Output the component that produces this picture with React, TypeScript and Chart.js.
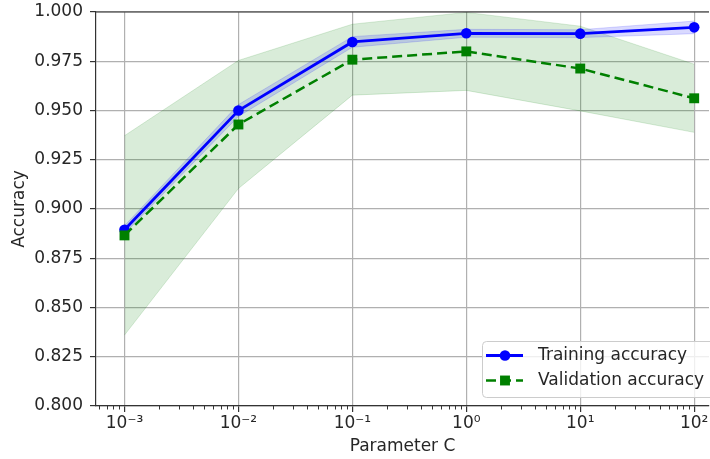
import React, { useEffect, useRef } from 'react';
import { Chart, registerables } from 'chart.js';

Chart.register(...registerables);

// ---- data ----
const paramC = [0.001, 0.01, 0.1, 1, 10, 100];
const trainMean = [0.8895, 0.95, 0.9848, 0.9892, 0.989, 0.9922];
const trainStd = [0.002, 0.003, 0.0027, 0.002, 0.002, 0.0032];
const testMean = [0.8866, 0.9429, 0.9758, 0.98, 0.9713, 0.9562];
const testStd = [0.0506, 0.0325, 0.018, 0.0198, 0.0215, 0.0173];

const xMajorTicks = [0.001, 0.01, 0.1, 1, 10, 100];
const xTickLabels = ['10⁻³', '10⁻²', '10⁻¹', '10⁰', '10¹', '10²'];
const yTickValues = [0.8, 0.825, 0.85, 0.875, 0.9, 0.925, 0.95, 0.975, 1.0];
const legendLabels = ['Training accuracy', 'Validation accuracy'];
const xTitle = 'Parameter C';
const yTitle = 'Accuracy';

const FONT = 'DejaVu Sans';
const FONT_SIZE = 17;
const TEXT = '#262626';
const SPINE = '#333333';

const pts = (arr: number[]) => paramC.map((x, i) => ({ x, y: arr[i] }));

const spinesPlugin = {
  id: 'spinesAndMinor',
  afterDraw(chart: any) {
    const { ctx, chartArea, scales } = chart;
    const xs = scales.x;
    ctx.save();
    // top spine
    ctx.strokeStyle = SPINE;
    ctx.lineWidth = 1.2;
    ctx.beginPath();
    ctx.moveTo(chartArea.left, chartArea.top);
    ctx.lineTo(chartArea.right, chartArea.top);
    ctx.stroke();
    // minor ticks on log axis
    ctx.lineWidth = 1;
    const lo = Math.floor(Math.log10(xs.min));
    const hi = Math.ceil(Math.log10(xs.max));
    for (let k = lo; k <= hi; k++) {
      for (let m = 2; m <= 9; m++) {
        const v = m * Math.pow(10, k);
        if (v < xs.min || v > xs.max) continue;
        const px = Math.round(xs.getPixelForValue(v)) + 0.5;
        ctx.beginPath();
        ctx.moveTo(px, chartArea.bottom);
        ctx.lineTo(px, chartArea.bottom + 3.5);
        ctx.stroke();
      }
    }
    ctx.restore();
  },
};

const legendPlugin = {
  id: 'mplLegend',
  afterDraw(chart: any) {
    const { ctx, chartArea } = chart;
    const dsTrain = chart.data.datasets[1];
    const dsTest = chart.data.datasets[0];
    const left = chartArea.right - 227;
    const top = chartArea.bottom - 65;
    const w = 250;
    const h = 56;
    ctx.save();
    ctx.beginPath();
    if (ctx.roundRect) ctx.roundRect(left + 0.5, top + 0.5, w, h, 4);
    else ctx.rect(left + 0.5, top + 0.5, w, h);
    ctx.fillStyle = 'rgba(255,255,255,0.8)';
    ctx.fill();
    ctx.strokeStyle = '#cccccc';
    ctx.lineWidth = 1;
    ctx.stroke();

    const rows = [
      { ds: dsTrain, label: legendLabels[0], y: top + 14.5 },
      { ds: dsTest, label: legendLabels[1], y: top + 39.5 },
    ];
    rows.forEach(({ ds, label, y }) => {
      ctx.strokeStyle = ds.borderColor;
      ctx.lineWidth = ds.borderWidth;
      ctx.setLineDash(ds.borderDash || []);
      ctx.beginPath();
      ctx.moveTo(left + 4, y);
      ctx.lineTo(left + 41, y);
      ctx.stroke();
      ctx.setLineDash([]);
      ctx.fillStyle = ds.backgroundColor;
      const cx = left + 23;
      if (ds.pointStyle === 'rect') {
        const s = ds.pointRadius * Math.SQRT1_2;
        ctx.fillRect(cx - s, y - s, 2 * s, 2 * s);
      } else {
        ctx.beginPath();
        ctx.arc(cx, y, ds.pointRadius, 0, Math.PI * 2);
        ctx.fill();
      }
      ctx.fillStyle = TEXT;
      ctx.font = `${FONT_SIZE}px "${FONT}"`;
      ctx.textBaseline = 'middle';
      ctx.textAlign = 'left';
      ctx.fillText(label, left + 56, y);
    });
    ctx.restore();
  },
};

export default function App() {
  const ref = useRef<HTMLCanvasElement>(null);

  useEffect(() => {
    if (!ref.current) return;
    Chart.defaults.font.family = FONT;
    Chart.defaults.font.size = FONT_SIZE;
    Chart.defaults.color = TEXT;

    const bandEdgeGreen = 'rgba(0,128,0,0.15)';
    const bandEdgeBlue = 'rgba(0,0,255,0.15)';

    const chart = new Chart(ref.current, {
      type: 'line',
      data: {
        datasets: [
          {
            label: legendLabels[1],
            data: pts(testMean),
            borderColor: '#008000',
            backgroundColor: '#008000',
            borderWidth: 2.5,
            borderDash: [10, 5],
            pointStyle: 'rect',
            pointRadius: 7,
            pointBorderWidth: 0,
            fill: false,
          },
          {
            label: legendLabels[0],
            data: pts(trainMean),
            borderColor: '#0000ff',
            backgroundColor: '#0000ff',
            borderWidth: 2.8,
            pointStyle: 'circle',
            pointRadius: 5.3,
            pointBorderWidth: 0,
            fill: false,
          },
          {
            label: 'train upper',
            data: pts(trainMean.map((m, i) => m + trainStd[i])),
            borderColor: bandEdgeBlue,
            borderWidth: 1,
            pointRadius: 0,
            fill: false,
          },
          {
            label: 'train lower',
            data: pts(trainMean.map((m, i) => m - trainStd[i])),
            borderColor: bandEdgeBlue,
            borderWidth: 1,
            pointRadius: 0,
            backgroundColor: 'rgba(0,0,255,0.15)',
            fill: '-1',
          },
          {
            label: 'test upper',
            data: pts(testMean.map((m, i) => m + testStd[i])),
            borderColor: bandEdgeGreen,
            borderWidth: 1,
            pointRadius: 0,
            fill: false,
          },
          {
            label: 'test lower',
            data: pts(testMean.map((m, i) => m - testStd[i])),
            borderColor: bandEdgeGreen,
            borderWidth: 1,
            pointRadius: 0,
            backgroundColor: 'rgba(0,128,0,0.15)',
            fill: '-1',
          },
        ],
      },
      options: {
        animation: false,
        responsive: false,
        devicePixelRatio: 1,
        events: [],
        layout: { autoPadding: false, padding: { top: 12, right: 1, left: 0, bottom: 0 } },
        plugins: {
          legend: { display: false },
          tooltip: { enabled: false },
        },
        scales: {
          x: {
            type: 'logarithmic',
            min: Math.pow(10, -3.25),
            max: Math.pow(10, 2.13),
            bounds: 'data',
            afterBuildTicks: (s: any) => {
              s.ticks = xMajorTicks.map((v) => ({ value: v, major: true }));
            },
            afterFit: (s: any) => {
              s.height = 53;
              s.paddingLeft = 0;
              s.paddingRight = 0;
            },
            ticks: {
              autoSkip: false,
              maxRotation: 0,
              padding: 1,
              callback: (_v: any, i: number) => xTickLabels[i],
            },
            grid: {
              color: '#b0b0b0',
              lineWidth: 1.2,
              tickColor: SPINE,
              tickLength: 6,
            },
            border: { color: SPINE, width: 1.2 },
            title: {
              display: true,
              text: xTitle,
              padding: { top: 0, bottom: 1.8 },
            },
          },
          y: {
            type: 'linear',
            min: 0.8,
            max: 1.0,
            afterBuildTicks: (s: any) => {
              s.ticks = yTickValues.map((v) => ({ value: v }));
            },
            afterFit: (s: any) => {
              s.width = 96;
              s.paddingTop = 0;
              s.paddingBottom = 0;
            },
            ticks: {
              padding: 7,
              callback: (v: any) => Number(v).toFixed(3),
            },
            grid: {
              color: '#b0b0b0',
              lineWidth: 1.2,
              tickColor: SPINE,
              tickLength: 6,
            },
            border: { color: SPINE, width: 1.2 },
            title: {
              display: true,
              text: yTitle,
              padding: { top: 9.8, bottom: 0 },
            },
          },
        },
      } as any,
      plugins: [spinesPlugin, legendPlugin],
    });
    return () => chart.destroy();
  }, []);

  return (
    <div style={{ position: 'absolute', left: 0, top: 0, width: 710, height: 459 }}>
      <canvas
        ref={ref}
        width={710}
        height={459}
        style={{ display: 'block', width: 710, height: 459 }}
      />
    </div>
  );
}
